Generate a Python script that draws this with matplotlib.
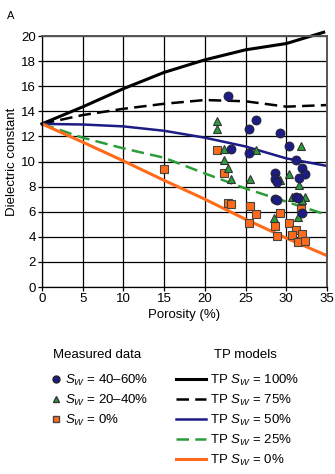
import matplotlib
matplotlib.use('Agg')
import matplotlib.pyplot as plt
from matplotlib.lines import Line2D
import numpy as np

plt.rcParams['font.family'] = ['Liberation Sans', 'DejaVu Sans']
plt.rcParams['mathtext.fontset'] = 'custom'
plt.rcParams['mathtext.it'] = 'Liberation Sans:italic'
plt.rcParams['mathtext.rm'] = 'Liberation Sans'

# measured data (porosity %, dielectric constant)
sw_high_x = [22.85, 26.3, 25.4, 29.2, 23.2, 25.4, 30.4, 31.2, 31.9, 32.35, 31.6,
             28.6, 28.6, 28.9, 28.6, 28.9, 31.2, 31.5, 31.9]
sw_high_y = [15.2, 13.3, 12.6, 12.3, 11.0, 10.7, 11.2, 10.1, 9.5, 9.0, 8.7,
             9.1, 8.6, 8.4, 7.0, 6.9, 7.2, 7.1, 5.9]

sw_mid_x = [21.5, 21.5, 22.4, 26.3, 22.4, 22.85, 23.2, 25.5, 29.2, 30.4, 31.8,
            31.6, 30.7, 31.7, 32.3, 31.9, 28.5, 31.5]
sw_mid_y = [13.2, 12.6, 11.0, 10.9, 10.1, 9.5, 8.6, 8.6, 8.5, 9.0, 11.2,
            8.15, 7.15, 7.15, 7.15, 6.9, 5.5, 5.6]

sw_dry_x = [15.0, 21.5, 22.4, 22.9, 23.2, 25.5, 26.3, 25.4, 29.2, 28.6, 28.9,
            30.4, 31.8, 31.2, 31.9, 30.7, 31.4, 32.3]
sw_dry_y = [9.4, 10.9, 9.1, 6.7, 6.6, 6.45, 5.8, 5.1, 5.9, 4.9, 4.1,
            5.1, 6.25, 4.55, 4.2, 4.15, 3.55, 3.7]

# TP model curves
model_x = [0, 5, 10, 15, 20, 25, 30, 35]
tp_100_x = [0, 5, 10, 15, 20, 25, 30, 34.6]
tp_100 = [13.0, 14.35, 15.8, 17.1, 18.1, 18.9, 19.4, 20.3]
tp_75 = [13.0, 13.7, 14.2, 14.6, 14.9, 14.8, 14.37, 14.5]
tp_50 = [13.0, 12.95, 12.8, 12.45, 11.9, 11.2, 10.25, 9.65]
tp_25 = [13.0, 11.9, 11.05, 10.3, 9.05, 7.85, 6.8, 5.75]
tp_0 = [13.0, 11.55, 10.05, 8.5, 7.0, 5.4, 3.9, 2.5]

navy = '#1c1c84'
green = '#2a9d3a'
orange = '#ff6b1a'
fs = 9.5
dash = (5, 2.5)

fig = plt.figure(figsize=(3.35, 4.74), dpi=100)
ax = fig.add_axes([0.125, 0.3945, 0.851, 0.5295])

ax.plot(tp_100_x, tp_100, color='black', lw=2.2, clip_on=False)
ax.plot(model_x, tp_75, color='black', lw=1.8, dashes=dash)
ax.plot(model_x, tp_50, color=navy, lw=1.8)
ax.plot(model_x, tp_25, color=green, lw=1.8, dashes=dash)
ax.plot(model_x, tp_0, color=orange, lw=2.2)

ms = 6
ax.plot(sw_dry_x, sw_dry_y, 's', color=orange, mec='#444444', mew=0.8, ms=ms, ls='none')
ax.plot(sw_mid_x, sw_mid_y, '^', color=green, mec='#333333', mew=0.8, ms=ms, ls='none')
ax.plot(sw_high_x, sw_high_y, 'o', color=navy, mec='#222222', mew=0.6, ms=ms + 0.5, ls='none')

ax.set_xlim(0, 35)
ax.set_ylim(0, 20)
ax.set_xticks(np.arange(0, 36, 5))
ax.set_yticks(np.arange(0, 21, 2))
ax.grid(True, color='black', lw=0.9)
ax.set_axisbelow(True)
for s in ['top', 'right']:
    ax.spines[s].set_color('#555555')
    ax.spines[s].set_linewidth(1.4)
for s in ['bottom', 'left']:
    ax.spines[s].set_linewidth(0.9)
ax.tick_params(labelsize=fs, length=3, width=0.9, pad=1.5)
ax.set_xlabel('Porosity (%)', fontsize=fs, labelpad=3)
ax.set_ylabel('Dielectric constant', fontsize=fs, labelpad=2)

fig.text(0.02, 0.977, 'A', fontsize=8, va='top', ha='left')

# legend headers
fig.text(0.29, 1 - 355 / 474, 'Measured data', fontsize=fs, ha='center', va='center')
fig.text(0.732, 1 - 355 / 474, 'TP models', fontsize=fs, ha='center', va='center')

# legends
meas_handles = [
    Line2D([], [], marker='o', color=navy, mec='#222222', ls='none', ms=5),
    Line2D([], [], marker='^', color=green, mec='#333333', ls='none', ms=5),
    Line2D([], [], marker='s', color=orange, mec='#444444', ls='none', ms=4.5),
]
meas_labels = ['$S_W$ = 40–60%', '$S_W$ = 20–40%', '$S_W$ = 0%']
leg1 = fig.legend(meas_handles, meas_labels, loc='upper left',
                  bbox_to_anchor=(0.136, 0.224), frameon=False, fontsize=fs,
                  handlelength=0.8, handletextpad=0.3,
                  labelspacing=0.37, borderaxespad=0)

model_handles = [
    Line2D([], [], color='black', lw=2.2),
    Line2D([], [], color='black', lw=1.8, dashes=dash),
    Line2D([], [], color=navy, lw=1.8),
    Line2D([], [], color=green, lw=1.8, dashes=dash),
    Line2D([], [], color=orange, lw=2.2),
]
model_labels = ['TP $S_W$ = 100%', 'TP $S_W$ = 75%', 'TP $S_W$ = 50%',
                'TP $S_W$ = 25%', 'TP $S_W$ = 0%']
leg2 = fig.legend(model_handles, model_labels, loc='upper left',
                  bbox_to_anchor=(0.51, 0.224), frameon=False, fontsize=fs,
                  handlelength=2.3, handletextpad=0.3,
                  labelspacing=0.37, borderaxespad=0)

fig.savefig('out.png', dpi=100)
